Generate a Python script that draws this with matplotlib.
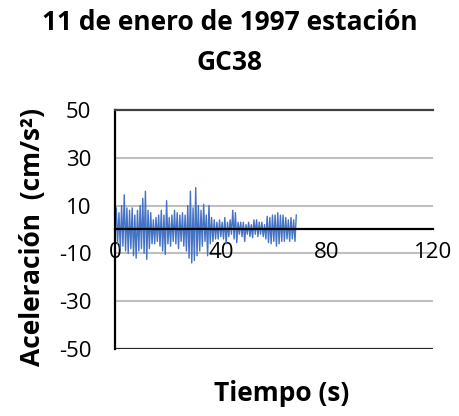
import numpy as np
import matplotlib
matplotlib.use('Agg')
import matplotlib.pyplot as plt

plt.rcParams['font.family'] = ['Open Sans', 'DejaVu Sans']
plt.rcParams['axes.unicode_minus'] = False

# acceleration record, one value every 0.5 s (cm/s2)
dt = 0.5
acel = [3, 9, -6, 7, -8, 10, -7, 14.5, -9, 9,
        -10, 8, -8, 9, -11, 6, -12, 8, -9, 10,
        -8, 13, -10, 16, -12.5, 8, -8, 7, -6, 4,
        -6, 5, -5, 6, -7, 8, -9, 6, -10.5, 12,
        -6, 5, -7, 6, -5, 8, -6, 7, -8, 6,
        -5, 7, -7, 6, -9, 10, -12, 16, -14, 9,
        -13, 17.5, -11, 10, -9, 8, -7, 10.5, -5, 6,
        -11, 10, -6, 5, -5, 4, -4, 3, -4, 4,
        -3, 3, -4, 5, -6, 3, -3, 4, -2, 8,
        -4, 7, -5.5, 3, -2, 3, -3, 3, -5, 2,
        -2, 3, -3, 2, -3.5, 4, -2, 4, -3, 3,
        -2, 3, -3, 2, -4, 5.5, -5.5, 5, -6, 6,
        -5, 6, -7, 7, -6, 6, -5, 6, -5, 5,
        -4, 4, -5, 5, -4, 4, -5, 6]
tiempo = np.arange(len(acel)) * dt

yticks = [-50, -30, -10, 10, 30, 50]
xticks = [0, 40, 80, 120]

fig = plt.figure(figsize=(4.59, 4.16), dpi=100)
ax = fig.add_axes([0.2505, 0.161, 0.692, 0.575])

for y in [-30, -10, 10, 30]:
    ax.axhline(y, color='#BFBFBF', lw=1.5, zorder=1)
ax.axhline(-50, color='#262626', lw=1.6, zorder=1)

ax.plot(tiempo, acel, color='#4472C4', lw=1.0, zorder=2)

ax.set_xlim(0, 120)
ax.set_ylim(-50, 50)
ax.set_xticks(xticks)
ax.set_yticks(yticks)
ax.tick_params(axis='both', length=0, labelsize=16)
ax.tick_params(axis='y', pad=17)
ax.tick_params(axis='x', pad=9)

ax.spines['bottom'].set_position(('data', 0))
ax.spines['bottom'].set_color('black')
ax.spines['bottom'].set_linewidth(1.6)
ax.spines['bottom'].set_zorder(3)
ax.spines['left'].set_color('black')
ax.spines['left'].set_linewidth(1.6)
ax.spines['top'].set_color('#404040')
ax.spines['top'].set_linewidth(1.6)
ax.spines['right'].set_visible(False)

fig.text(0.07, 0.43, 'Aceleración  (cm/s²)', fontsize=19, fontweight='bold',
         rotation=90, ha='center', va='center')
fig.text(0.613, 0.055, 'Tiempo (s)', fontsize=19, fontweight='bold', ha='center', va='center')
fig.text(0.5, 0.898, '11 de enero de 1997 estación\nGC38', fontsize=19, fontweight='bold',
         ha='center', va='center', linespacing=1.6)

fig.savefig('out.png', dpi=100)
